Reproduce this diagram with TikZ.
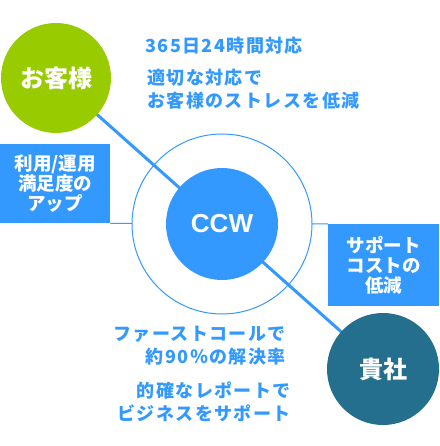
\documentclass[tikz,border=0pt]{standalone}
\usepackage{fontspec}
\usepackage{tikz}
\usetikzlibrary{positioning,backgrounds}
\setmainfont{Liberation Sans}
\newfontfamily\jpfont{Noto Sans CJK JP}[LetterSpace=8]
\newfontfamily\jpbold{Noto Sans CJK JP}
\definecolor{ccwblue}{HTML}{3399FF}
\definecolor{userlime}{HTML}{99CC00}
\definecolor{firmteal}{HTML}{246E8E}

\begin{document}
\begin{tikzpicture}[
    x=1pt, y=-1pt,
    party/.style={
      circle, inner sep=0pt, minimum size=112pt, text=white,
      font=\jpbold\bfseries\fontsize{24}{24}\selectfont
    },
    benefit/.style={
      fill=ccwblue, inner sep=0pt, text=white, align=center,
      font=\jpbold\bfseries\fontsize{18.5}{20}\selectfont
    },
    blurb/.style={text=ccwblue, inner sep=0pt, font=\jpfont\bfseries\fontsize{18}{22.5}\selectfont},
    link/.style={ccwblue, line width=3pt},
    rim/.style={draw=ccwblue, line width=1pt}
  ]
  \useasboundingbox (0,0) rectangle (439,446);

  \node[party, fill=userlime, minimum size=110pt] (customer) at (56,78) {お客様};
  \node[party, fill=ccwblue, font=\bfseries\fontsize{26}{26}\selectfont] (ccw) at (222,224) {CCW};
  \node[party, fill=firmteal] (company) at (383,369) {貴社};

  \node[benefit, anchor=north west, minimum width=110pt, minimum height=79pt] (usability) at (0,144)
    {利用/運用\\満足度の\\アップ};
  \node[benefit, anchor=north west, minimum width=111pt, minimum height=82pt] (costdown) at (328,224)
    {サポート\\コストの\\低減};

  % ring and connectors sit behind the circles
  \begin{scope}[on background layer]
    \draw[rim] (usability.south east) -- (costdown.north west);
    \node[rim, circle, fill=white, minimum size=180pt] (ring) at (ccw) {};
    \draw[link] (customer.center) -- (company.center);
  \end{scope}

  \node[blurb, anchor=west] (uptime) at (145,46) {365日24時間対応};
  \node[blurb, anchor=north west, align=left] (relief) at (147,69)
    {適切な対応で\\お客様のストレスを低減};
  \node[blurb, anchor=north east, align=right] (firstcall) at (286,326)
    {ファーストコールで\\約90％の解決率};
  \node[blurb, anchor=north east, align=right] (reports) at (291,382)
    {的確なレポートで\\ビジネスをサポート};

\end{tikzpicture}
\end{document}
